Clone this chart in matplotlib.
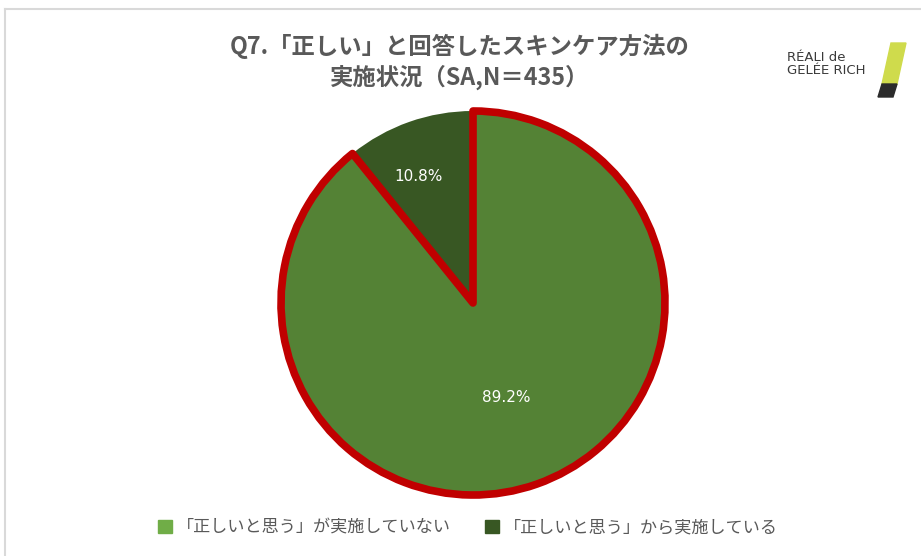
import numpy as np
import matplotlib
matplotlib.use("Agg")
import matplotlib.pyplot as plt
from matplotlib.patches import Polygon, Rectangle

plt.rcParams['font.family'] = ['Noto Sans CJK JP', 'DejaVu Sans']

# データ
labels = ['「正しいと思う」が実施していない', '「正しいと思う」から実施している']
values = [89.2, 10.8]
pie_colors = ['#548235', '#385723']
legend_colors = ['#70AD47', '#385723']
title = 'Q7.「正しい」と回答したスキンケア方法の\n実施状況（SA,N＝435）'

W, H = 921, 556
fig = plt.figure(figsize=(W / 100, H / 100), dpi=100)

# 枠線
fig.add_artist(plt.Line2D([5 / W, 5 / W], [0, 1 - 9 / H], color='#d9d9d9', lw=1.5))
fig.add_artist(plt.Line2D([5 / W, 1], [1 - 9 / H, 1 - 9 / H], color='#d9d9d9', lw=1.5))

# 円グラフ
cx, cy, r = 473, 303, 192
ax = fig.add_axes([(cx - r) / W, (H - cy - r) / H, 2 * r / W, 2 * r / H])
wedges, _ = ax.pie(values, colors=pie_colors, startangle=90, counterclock=False,
                   radius=1.0, wedgeprops=dict(linewidth=0))
ax.set_xlim(-1.0, 1.0)
ax.set_ylim(-1.0, 1.0)
ax.set_aspect('equal')
ax.axis('off')

# 大きい方の扇形に赤い枠
wedges[0].set_edgecolor('#C00000')
wedges[0].set_linewidth(5.5)
wedges[0].set_joinstyle('round')
wedges[0].set_zorder(3)
for w in wedges:
    w.set_clip_on(False)

# ラベル
dists = [0.52, 0.7]
for w, v, d in zip(wedges, values, dists):
    mid = np.deg2rad((w.theta1 + w.theta2) / 2)
    ax.text(d * np.cos(mid) - 0.05 * (v < 50), d * np.sin(mid), f'{v}%', color='white',
            fontsize=11, ha='center', va='center', zorder=5,
            family=['DejaVu Sans'])

# タイトル
fig.text(460 / W, 1 - 62 / H, title, ha='center', va='center', fontsize=16.8,
         fontweight='bold', color='#595959', linespacing=1.3)

# 凡例
handles = [Rectangle((0, 0), 1, 1, color=c) for c in legend_colors]
fig.legend(handles, labels, loc='center', bbox_to_anchor=(468 / W, 1 - 527 / H),
           ncol=2, frameon=False, fontsize=12.3, labelcolor='#595959',
           handlelength=0.8, handleheight=0.8, handletextpad=0.3, columnspacing=2.0)

# ロゴ
fig.text(787 / W, 1 - 64 / H, 'RÉALI de\nGELÉE RICH', ha='left', va='center',
         fontsize=9.5, color='#3a3a3a', linespacing=1.05, family=['DejaVu Sans'])
lime = [(891, 43), (906, 43), (897, 84), (882, 84)]
dark = [(882, 84), (897, 84), (893, 97), (878, 97)]
for pts, col in [(lime, '#cfdb4c'), (dark, '#2b2b2b')]:
    fig.add_artist(Polygon([(x / W, 1 - y / H) for x, y in pts], closed=True,
                           transform=fig.transFigure, color=col))

fig.savefig('out.png', dpi=100)
